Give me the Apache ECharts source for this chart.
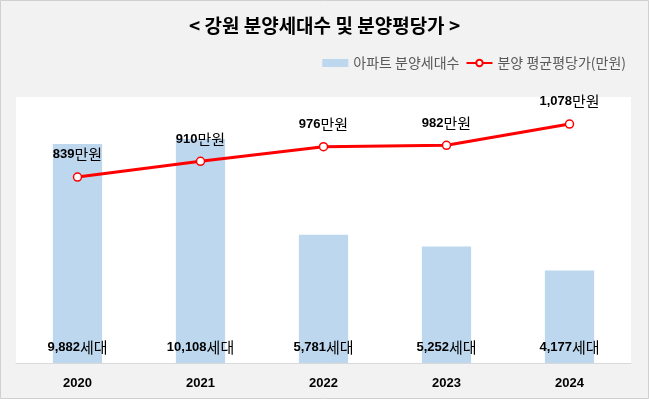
<!DOCTYPE html>
<html><head><meta charset="utf-8">
<script src="https://cdn.jsdelivr.net/npm/echarts@6/dist/echarts.min.js"></script>
<style>html,body{margin:0;padding:0;background:#F2F2F2}#c{width:649px;height:399px}</style>
</head><body><div id="c"></div>
<script>
const years = ['2020','2021','2022','2023','2024'];
const households = [9882, 10108, 5781, 5252, 4177];
const prices = [839, 910, 976, 982, 1078];
const titleText = '< 강원 분양세대수 및 분양평당가 >';
const barName = '아파트 분양세대수';
const lineName = '분양 평균평당가(만원)';

const fmt = v => v.toLocaleString('en-US');
const KR = '"Noto Sans CJK KR", "Noto Sans", sans-serif';
const chart = echarts.init(document.getElementById('c'));
chart.setOption({
  backgroundColor: '#F2F2F2',
  textStyle: {fontFamily: KR},
  graphic: [{type:'rect', shape:{x:0.5,y:0.5,width:648,height:398}, style:{fill:'none', stroke:'#D0D0D0', lineWidth:1}, silent:true}],
  title: {text: titleText, left: 'center', top: 11, textStyle:{fontSize:19, fontWeight:'bold', color:'#000', fontFamily: KR}},
  legend: {
    right: 18, top: 51, itemGap: 6, itemWidth: 26, itemHeight: 8,
    textStyle:{fontSize:14, color:'#595959', fontFamily: KR},
    data: [{name: barName, icon:'rect'}, {name: lineName}]
  },
  grid: {left: 16, right: 18, top: 97, bottom: 36, show: true, backgroundColor:'#FFFFFF', borderWidth: 0},
  xAxis: {
    type:'category', data: years,
    axisLine:{lineStyle:{color:'#D9D9D9', width:1}}, axisTick:{show:false},
    axisLabel:{fontSize:13, fontWeight:'bold', color:'#000', margin:14, fontFamily:'"Liberation Sans", Arial, sans-serif'}
  },
  yAxis: [
    {type:'value', min:0, max:12000, show:false, splitLine:{show:false}},
    {type:'value', min:0, max:1200, show:false, splitLine:{show:false}}
  ],
  series: [
    {
      name: barName, type:'bar', data: households, yAxisIndex:0, barWidth:'40%',
      itemStyle:{color:'#BDD7EE'},
      label:{show:true, position:'insideBottom', distance:8,
        formatter: p => '{a|' + fmt(p.value) + '}{b|세대}',
        rich:{a:{fontSize:13, fontWeight:'bold', color:'#000', fontFamily:'"Liberation Sans", Arial, sans-serif'},
              b:{fontSize:15, color:'#000', fontFamily: KR}}}
    },
    {
      name: lineName, type:'line', data: prices, yAxisIndex:1,
      symbol:'circle', symbolSize:8, z:5,
      lineStyle:{color:'#FF0000', width:3},
      itemStyle:{color:'#FFFFFF', borderColor:'#FF0000', borderWidth:1.5},
      label:{show:true, position:'top', distance:10,
        formatter: p => '{a|' + fmt(p.value) + '}{b|만원}',
        rich:{a:{fontSize:13, fontWeight:'bold', color:'#000', fontFamily:'"Liberation Sans", Arial, sans-serif'},
              b:{fontSize:15, color:'#000', fontFamily: KR}}}
    }
  ]
});
</script></body></html>
